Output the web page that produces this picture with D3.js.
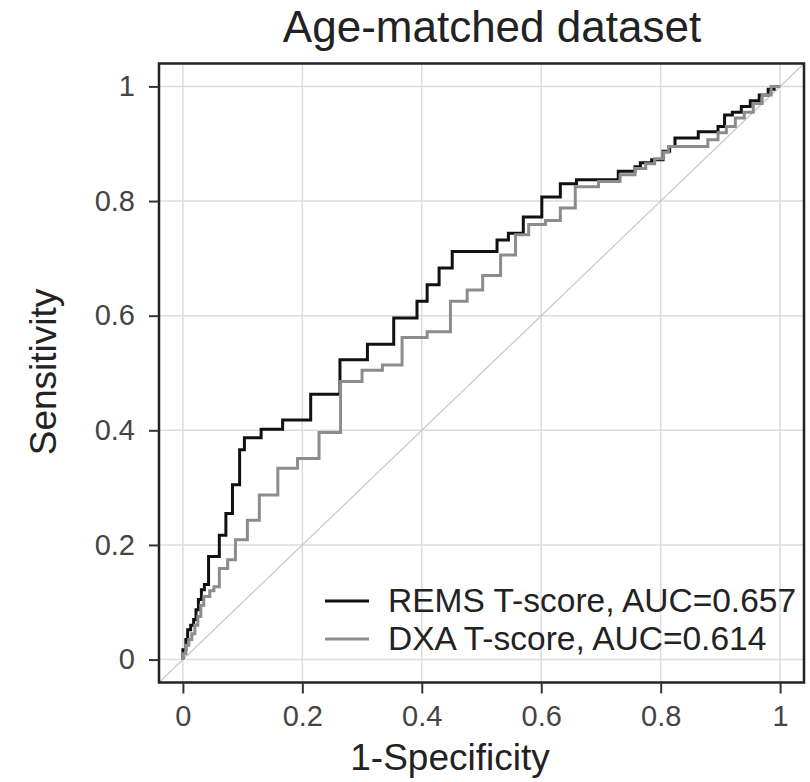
<!DOCTYPE html>
<html>
<head>
<meta charset="utf-8">
<title>Age-matched dataset</title>
<script src="https://d3js.org/d3.v7.min.js"></script>
<style>
  body { margin: 0; background: #fff; }
  text { font-family: "Liberation Sans", Arial, sans-serif; }
</style>
</head>
<body>
<script>
// ROC points: x where the curve rises, sensitivity after the rise
var remsFpr = [0, 0, 0.005, 0.008, 0.013, 0.018, 0.022, 0.026, 0.031, 0.036, 0.043, 0.061, 0.072, 0.083, 0.095, 0.103, 0.131, 0.167, 0.214, 0.263, 0.309, 0.353, 0.392, 0.409, 0.429, 0.451, 0.526, 0.545, 0.570, 0.601, 0.632, 0.659, 0.729, 0.757, 0.766, 0.785, 0.804, 0.815, 0.824, 0.863, 0.896, 0.907, 0.920, 0.935, 0.950, 0.965, 0.980, 0.990, 1];
var remsTpr = [0, 0.017, 0.035, 0.052, 0.060, 0.070, 0.087, 0.105, 0.122, 0.131, 0.180, 0.217, 0.255, 0.305, 0.366, 0.387, 0.402, 0.418, 0.463, 0.523, 0.550, 0.596, 0.625, 0.654, 0.683, 0.712, 0.732, 0.744, 0.772, 0.807, 0.830, 0.837, 0.852, 0.860, 0.867, 0.872, 0.887, 0.895, 0.910, 0.921, 0.930, 0.950, 0.955, 0.965, 0.975, 0.985, 0.995, 1, 1];

var dxaFpr = [0, 0, 0.005, 0.010, 0.015, 0.020, 0.025, 0.030, 0.035, 0.045, 0.052, 0.061, 0.075, 0.088, 0.108, 0.128, 0.159, 0.192, 0.228, 0.264, 0.300, 0.334, 0.367, 0.409, 0.448, 0.476, 0.502, 0.532, 0.557, 0.579, 0.607, 0.632, 0.657, 0.696, 0.732, 0.757, 0.775, 0.790, 0.805, 0.813, 0.879, 0.896, 0.910, 0.925, 0.940, 0.955, 0.970, 0.985, 1];
var dxaTpr = [0, 0.010, 0.025, 0.035, 0.045, 0.060, 0.075, 0.095, 0.110, 0.120, 0.127, 0.159, 0.174, 0.209, 0.243, 0.287, 0.334, 0.351, 0.396, 0.485, 0.505, 0.514, 0.562, 0.572, 0.625, 0.645, 0.670, 0.706, 0.741, 0.759, 0.766, 0.788, 0.825, 0.834, 0.846, 0.857, 0.865, 0.874, 0.885, 0.895, 0.907, 0.919, 0.930, 0.945, 0.955, 0.970, 0.985, 1, 1];

var tickValues = [0, 0.2, 0.4, 0.6, 0.8, 1];
var tickLabels = ["0", "0.2", "0.4", "0.6", "0.8", "1"];
var legendLabels = ["REMS T-score, AUC=0.657", "DXA T-score, AUC=0.614"];
var legendColors = ["#111", "#8c8c8c"];

var width = 810, height = 782;
var svg = d3.select("body").append("svg").attr("width", width).attr("height", height);

var x = d3.scaleLinear().domain([-0.04, 1.04]).range([159, 804]);
var y = d3.scaleLinear().domain([-0.04, 1.04]).range([682.5, 63.5]);

// grid
svg.append("g").selectAll("line").data(tickValues).enter().append("line")
  .attr("x1", function(d){ return x(d); }).attr("x2", function(d){ return x(d); })
  .attr("y1", y(1.04)).attr("y2", y(-0.04))
  .attr("stroke", "#dcdcdc").attr("stroke-width", 1.5);
svg.append("g").selectAll("line").data(tickValues).enter().append("line")
  .attr("y1", function(d){ return y(d); }).attr("y2", function(d){ return y(d); })
  .attr("x1", x(-0.04)).attr("x2", x(1.04))
  .attr("stroke", "#dcdcdc").attr("stroke-width", 1.5);

// reference diagonal
svg.append("line")
  .attr("x1", x(-0.04)).attr("y1", y(-0.04)).attr("x2", x(1.04)).attr("y2", y(1.04))
  .attr("stroke", "#c8c8c8").attr("stroke-width", 1.2);

// curves
var line = d3.line().curve(d3.curveStepAfter)
  .x(function(d){ return x(d[0]); }).y(function(d){ return y(d[1]); });
var rems = d3.zip(remsFpr, remsTpr);
var dxa = d3.zip(dxaFpr, dxaTpr);
svg.append("path").datum(rems).attr("d", line)
  .attr("fill", "none").attr("stroke", legendColors[0]).attr("stroke-width", 3);
svg.append("path").datum(dxa).attr("d", line)
  .attr("fill", "none").attr("stroke", legendColors[1]).attr("stroke-width", 3);

// box
svg.append("rect").attr("x", x(-0.04)).attr("y", y(1.04))
  .attr("width", x(1.04) - x(-0.04)).attr("height", y(-0.04) - y(1.04))
  .attr("fill", "none").attr("stroke", "#222").attr("stroke-width", 2.5);

// axes
var xAxis = d3.axisBottom(x).tickValues(tickValues).tickSize(11).tickPadding(12)
  .tickFormat(function(d, i){ return tickLabels[i]; });
var gx = svg.append("g").attr("transform", "translate(0," + y(-0.04) + ")").call(xAxis);
var yAxis = d3.axisLeft(y).tickValues(tickValues).tickSize(10).tickPadding(14)
  .tickFormat(function(d, i){ return tickLabels[i]; });
var gy = svg.append("g").attr("transform", "translate(" + x(-0.04) + ",0)").call(yAxis);
[gx, gy].forEach(function(g){
  g.select(".domain").remove();
  g.selectAll(".tick line").attr("stroke", "#333").attr("stroke-width", 2);
  g.selectAll(".tick text").attr("fill", "#444").style("font-size", "29px")
    .style("font-family", "'Liberation Sans', Arial, sans-serif");
});

// titles
svg.append("text").attr("x", 492).attr("y", 42).attr("text-anchor", "middle")
  .attr("fill", "#222").style("font-size", "44px").text("Age-matched dataset");
svg.append("text").attr("x", 450).attr("y", 770).attr("text-anchor", "middle")
  .attr("fill", "#222").style("font-size", "37px").text("1-Specificity");
svg.append("text").attr("transform", "translate(56,372) rotate(-90)").attr("text-anchor", "middle")
  .attr("fill", "#222").style("font-size", "37px").text("Sensitivity");

// legend
var leg = svg.append("g").selectAll("g").data(legendLabels).enter().append("g")
  .attr("transform", function(d, i){ return "translate(325," + (601 + i * 38) + ")"; });
leg.append("line").attr("x1", 0).attr("x2", 44).attr("y1", 0).attr("y2", 0)
  .attr("stroke", function(d, i){ return legendColors[i]; }).attr("stroke-width", 3);
leg.append("text").attr("x", 63).attr("y", 11).attr("fill", "#222")
  .style("font-size", "33.5px").text(function(d){ return d; });
</script>
</body>
</html>
